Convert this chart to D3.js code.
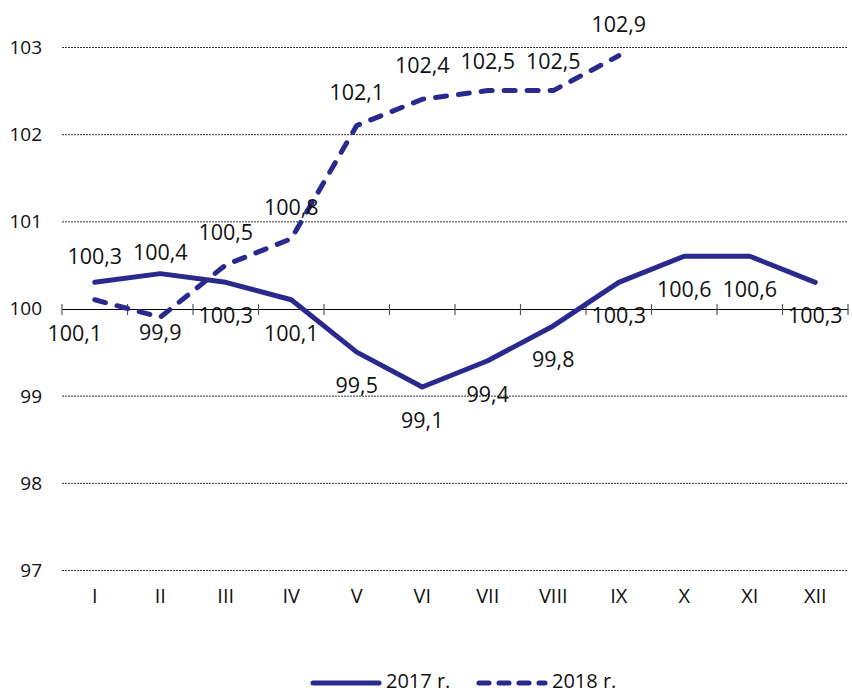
<!DOCTYPE html>
<html>
<head>
<meta charset="utf-8">
<script src="https://d3js.org/d3.v7.min.js"></script>
<style>
  body { margin: 0; background: #fff; }
  svg text { font-family: "Open Sans", "Noto Sans", sans-serif; fill: #111; }
</style>
</head>
<body>
<svg id="vis"></svg>
<script>
  // data
  var months = ["I", "II", "III", "IV", "V", "VI", "VII", "VIII", "IX", "X", "XI", "XII"];
  var values2017 = [100.3, 100.4, 100.3, 100.1, 99.5, 99.1, 99.4, 99.8, 100.3, 100.6, 100.6, 100.3];
  var values2018 = [100.1, 99.9, 100.5, 100.8, 102.1, 102.4, 102.5, 102.5, 102.9];
  var yTicks = [97, 98, 99, 100, 101, 102, 103];
  var seriesNames = ["2017 r.", "2018 r."];

  // label placement (baseline offset from the point, px), as in the original
  var labelDy2017 = [-18, -14, 41, 41, 41, 41, 41, 41, 41, 41, 41, 41];
  var labelDy2018 = [41, 23, -25, -24, -25, -26, -22, -22, -24];
  var labelDx2018 = [-20, 0, 0, 0, 0, 0, 0, 0, 0];

  var W = 852, H = 692;
  var plotLeft = 62, plotRight = 848, plotTop = 47, plotBottom = 570;
  var color = "#2a2a8e";

  var svg = d3.select("#vis").attr("width", W).attr("height", H)
    .attr("font-family", "Open Sans, sans-serif");

  var x = d3.scaleBand().domain(months).range([plotLeft, plotRight]);
  var y = d3.scaleLinear().domain([97, 103]).range([plotBottom, plotTop]);

  // gridlines
  svg.append("g")
    .selectAll("line")
    .data(yTicks.filter(function(d){ return d != 100; }))
    .enter().append("line")
    .attr("x1", plotLeft).attr("x2", plotRight)
    .attr("y1", function(d){ return y(d) + 0.5; })
    .attr("y2", function(d){ return y(d) + 0.5; })
    .attr("stroke", "#333")
    .attr("stroke-width", 1)
    .attr("stroke-dasharray", "2,1");

  // y labels
  svg.append("g")
    .selectAll("text")
    .data(yTicks)
    .enter().append("text")
    .attr("x", 42)
    .attr("y", function(d){ return y(d); })
    .attr("dy", "0.36em")
    .attr("text-anchor", "end")
    .style("font-size", "19px")
    .text(function(d){ return d; });

  // axis at 100
  var ax = d3.axisBottom(x).tickSize(0).tickFormat("");
  var axisG = svg.append("g")
    .attr("transform", "translate(0," + (y(100) + 0.5) + ")")
    .call(ax);
  axisG.select(".domain").attr("stroke", "#000").attr("stroke-width", 1.2);
  var bounds = months.map(function(m){ return x(m); }).concat([plotRight]);
  axisG.selectAll(".bnd")
    .data(bounds)
    .enter().append("line")
    .attr("class", "bnd")
    .attr("x1", function(d){ return d; }).attr("x2", function(d){ return d; })
    .attr("y1", -5).attr("y2", 6)
    .attr("stroke", "#555")
    .attr("stroke-width", 1.2);

  // x labels
  svg.append("g")
    .selectAll("text")
    .data(months)
    .enter().append("text")
    .attr("x", function(d){ return x(d) + x.bandwidth() / 2; })
    .attr("y", 603)
    .attr("text-anchor", "middle")
    .style("font-size", "20px")
    .text(function(d){ return d; });

  var line = d3.line()
    .x(function(d, i){ return x(months[i]) + x.bandwidth() / 2; })
    .y(function(d){ return y(d); });

  svg.append("path")
    .datum(values2017)
    .attr("d", line)
    .attr("fill", "none")
    .attr("stroke", color)
    .attr("stroke-width", 5)
    .attr("stroke-linecap", "round")
    .attr("stroke-linejoin", "round");

  svg.append("path")
    .datum(values2018)
    .attr("d", line)
    .attr("fill", "none")
    .attr("stroke", color)
    .attr("stroke-width", 5)
    .attr("stroke-linecap", "round")
    .attr("stroke-linejoin", "round")
    .attr("stroke-dasharray", "11,12");

  function fmt(v){ return d3.format(".1f")(v).replace(".", ","); }

  function labels(vals, dy, dx){
    svg.append("g")
      .selectAll("text")
      .data(vals)
      .enter().append("text")
      .attr("x", function(d, i){ return x(months[i]) + x.bandwidth() / 2 + (dx ? dx[i] : 0); })
      .attr("y", function(d, i){ return y(d) + dy[i]; })
      .attr("text-anchor", "middle")
      .style("font-size", "21.5px")
      .text(function(d){ return fmt(d); });
  }
  labels(values2017, labelDy2017);
  labels(values2018, labelDy2018, labelDx2018);

  // legend
  var lg = svg.append("g").attr("transform", "translate(0,683)");
  lg.append("line").attr("x1", 313).attr("x2", 379).attr("y1", 0).attr("y2", 0)
    .attr("stroke", color).attr("stroke-width", 5).attr("stroke-linecap", "round");
  lg.append("text").attr("x", 386).attr("y", 4.5)
    .style("font-size", "20px").text(seriesNames[0]);
  lg.append("line").attr("x1", 479).attr("x2", 545).attr("y1", 0).attr("y2", 0)
    .attr("stroke", color).attr("stroke-width", 5).attr("stroke-linecap", "round")
    .attr("stroke-dasharray", "10,10");
  lg.append("text").attr("x", 552).attr("y", 4.5)
    .style("font-size", "20px").text(seriesNames[1]);
</script>
</body>
</html>
